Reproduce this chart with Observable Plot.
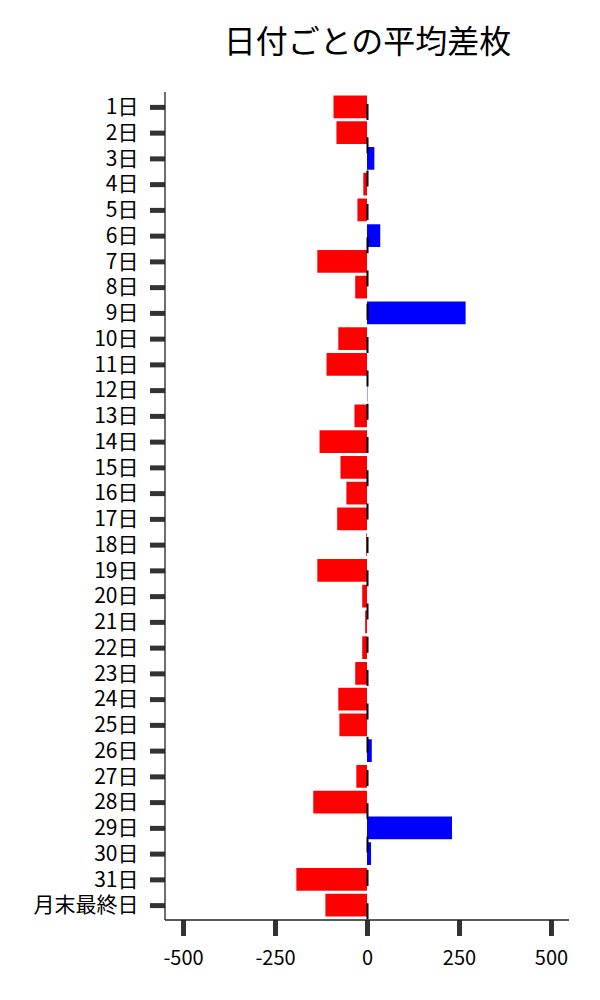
<!DOCTYPE html>
<html>
<head>
<meta charset="utf-8">
<script src="https://cdn.jsdelivr.net/npm/d3@7"></script>
<script src="https://cdn.jsdelivr.net/npm/@observablehq/plot@0.6"></script>
<style>
  body { margin: 0; background: #fff; }
  #chart svg { display: block; }
</style>
</head>
<body>
<div id="chart"></div>
<script>
const title = "日付ごとの平均差枚";
const days = ["1日","2日","3日","4日","5日","6日","7日","8日","9日","10日",
  "11日","12日","13日","14日","15日","16日","17日","18日","19日","20日",
  "21日","22日","23日","24日","25日","26日","27日","28日","29日","30日",
  "31日","月末最終日"];
const avgDiff = [-91, -83, 20, -10, -26, 36, -135, -32, 268, -78,
  -110, 1, -34, -129, -72, -56, -81, -2, -135, -13,
  -5, -13, -32, -78, -75, 13, -29, -146, 231, 11,
  -192, -113];
const xTicks = [-500, -250, 0, 250, 500];
const xDomain = [-549, 549];

const data = days.map((d, i) => ({day: d, value: avgDiff[i]}));
const font = "'Noto Sans CJK JP', 'Noto Sans', sans-serif";

const axisLines = (index, scales, values, dims) => {
  const dm = dims || {width: 600, height: 1000, marginLeft: 165, marginRight: 31, marginTop: 92, marginBottom: 80};
  const g = d3.create("svg:g");
  const x0 = dm.marginLeft, x1 = dm.width - dm.marginRight;
  const y0 = dm.marginTop, y1 = dm.height - dm.marginBottom;
  g.append("line").attr("x1", x0).attr("x2", x0).attr("y1", y0).attr("y2", y1)
    .attr("stroke", "#222").attr("stroke-width", 1.3);
  g.append("line").attr("x1", x0).attr("x2", x1).attr("y1", y1).attr("y2", y1)
    .attr("stroke", "#222").attr("stroke-width", 1.3);
  return g.node();
};

const plot = Plot.plot({
  width: 600,
  height: 1000,
  marginLeft: 165,
  marginRight: 31,
  marginTop: 92,
  marginBottom: 80,
  style: {fontFamily: font, fontSize: "20px", color: "black", background: "white"},
  x: {domain: xDomain, ticks: xTicks, label: null},
  y: {domain: days, paddingInner: 0.118, paddingOuter: 0.137, round: false, label: null},
  marks: [
    Plot.barX(data.filter(d => d.value < 0), {x: "value", y: "day", fill: "#ff0000"}),
    Plot.barX(data.filter(d => d.value >= 0), {x: "value", y: "day", fill: "#0000ff"}),
    Plot.ruleX([0], {stroke: "black", strokeWidth: 2, strokeDasharray: "16,17.3", strokeDashoffset: 21.3}),
    Plot.axisY({tickSize: 15, tickPadding: 12, stroke: "#333", strokeWidth: 5, fill: "black", fontSize: 21, label: null}),
    Plot.axisX(xTicks, {tickSize: 16, tickPadding: 14, stroke: "#333", strokeWidth: 5, fill: "black", fontSize: 20, label: null, tickFormat: d => String(d)}),
    axisLines,
    Plot.text([title], {frameAnchor: "top", dy: -50, fontSize: 32, lineAnchor: "middle", textAnchor: "middle", fill: "black"})
  ]
});
document.getElementById("chart").appendChild(plot);
</script>
</body>
</html>
